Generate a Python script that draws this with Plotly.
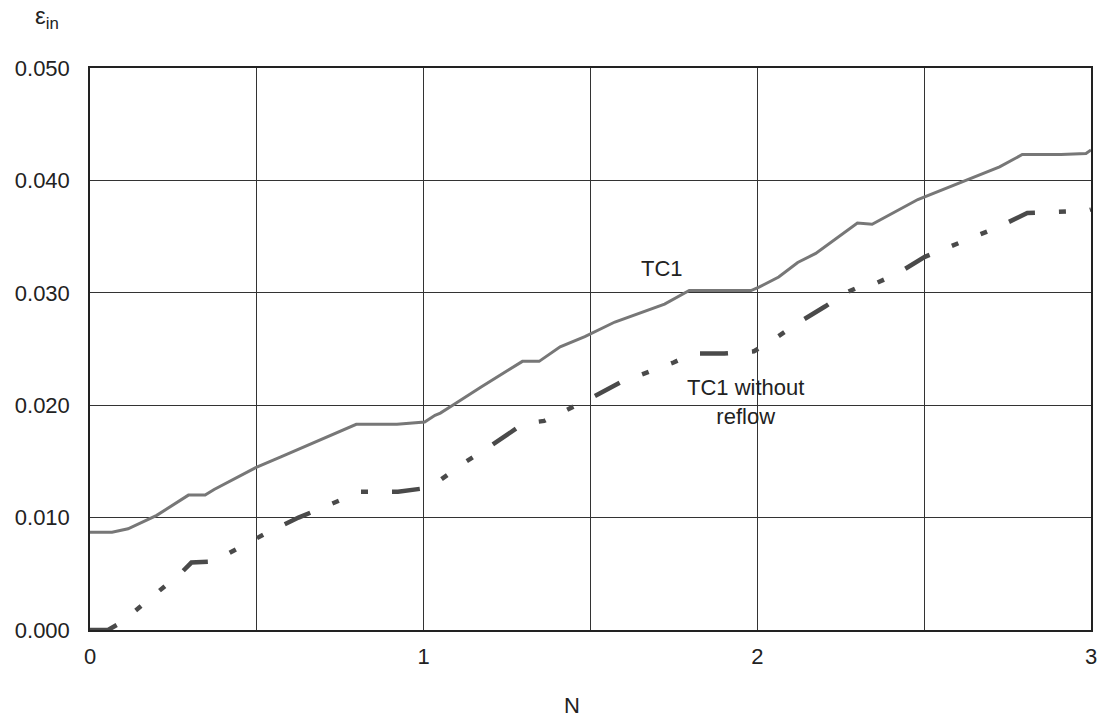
import plotly.graph_objects as go

# TC1 (solid grey)
tc1_x = [0, 0.066, 0.114, 0.2, 0.295, 0.345, 0.372, 0.43, 0.5, 0.572, 0.715, 0.798, 0.92, 0.977,
         1.003, 1.034, 1.05, 1.087, 1.171, 1.296, 1.346, 1.409, 1.483, 1.573, 1.722, 1.796, 1.981,
         2.005, 2.064, 2.121, 2.175, 2.300, 2.344, 2.481, 2.726, 2.794, 2.91, 2.985, 3.0]
tc1_y = [0.0087, 0.0087, 0.0090, 0.0102, 0.0120, 0.0120, 0.0125, 0.0134, 0.0145, 0.0154, 0.0172,
         0.0183, 0.0183, 0.0184, 0.0185, 0.0191, 0.0193, 0.0200, 0.0216, 0.0239, 0.0239, 0.0252,
         0.0261, 0.0274, 0.0290, 0.0302, 0.0302, 0.0305, 0.0314, 0.0327, 0.0335, 0.0362, 0.0361,
         0.0383, 0.0412, 0.0423, 0.0423, 0.0424, 0.0427]

# TC1 without reflow (dashed dark grey)
nr_x = [0, 0.054, 0.095, 0.277, 0.304, 0.348, 0.37, 0.521, 0.625, 0.754, 0.810, 0.923, 0.992, 1.0,
        1.048, 1.123, 1.197, 1.281, 1.335, 1.361, 1.499, 1.588, 1.749, 1.808, 1.901, 1.99, 2.046,
        2.121, 2.204, 2.258, 2.332, 2.359, 2.419, 2.502, 2.726, 2.809, 2.988, 3.0]
nr_y = [0, 0, 0.0007, 0.0052, 0.0060, 0.0060, 0.0061, 0.0085, 0.0100, 0.0116, 0.0123, 0.0123,
        0.0125, 0.0126, 0.0133, 0.0149, 0.0163, 0.0180, 0.0185, 0.0186, 0.0206, 0.0220, 0.0238,
        0.0246, 0.0246, 0.0248, 0.0258, 0.0273, 0.0288, 0.0299, 0.0309, 0.0309, 0.0317, 0.0332,
        0.0359, 0.0371, 0.0373, 0.0374]

y_tickvals = [0, 0.01, 0.02, 0.03, 0.04, 0.05]

FONT = "Liberation Sans, Arial, sans-serif"

fig = go.Figure()
fig.add_trace(go.Scatter(x=tc1_x, y=tc1_y, mode="lines",
                         line=dict(color="#777777", width=3), name="TC1"))
fig.add_trace(go.Scatter(x=nr_x, y=nr_y, mode="lines",
                         line=dict(color="#4a4a4a", width=4.5,
                                   dash="28px,24px,7px,24px,7px,24px"),
                         name="TC1 without reflow"))

fig.update_layout(
    width=1107, height=726,
    margin=dict(l=90, r=10, t=68, b=96),
    paper_bgcolor="white", plot_bgcolor="white",
    showlegend=False,
    font=dict(family=FONT, size=22, color="#222222"),
    xaxis=dict(range=[0, 3], dtick=1, tick0=0,
               showgrid=True, gridcolor="#333333", gridwidth=1,
               minor=dict(dtick=0.5, tick0=0, showgrid=True, gridcolor="#333333", gridwidth=1),
               showline=True, linecolor="#222222", linewidth=1.5, mirror=True,
               zeroline=False, ticks="", ticklabelstandoff=6),
    yaxis=dict(range=[0, 0.05], tickvals=y_tickvals, tickformat=".3f",
               showgrid=True, gridcolor="#333333", gridwidth=1,
               showline=True, linecolor="#222222", linewidth=1.5, mirror=True,
               zeroline=False, ticks="", ticklabelstandoff=14),
    annotations=[
        dict(text="TC1", x=1.713, y=0.0322, xref="x", yref="y", showarrow=False,
             font=dict(size=22)),
        dict(text="TC1 without<br>reflow", x=1.966, y=0.0203, xref="x", yref="y",
             showarrow=False, align="center", font=dict(size=22)),
        dict(text="ε<sub>in</sub>", x=(47 - 90) / 1007, y=(630 - 18) / 562,
             xref="paper", yref="paper", xanchor="center", yanchor="middle",
             showarrow=False, font=dict(size=24)),
        dict(text="N", x=(575 - 90) / 1007, y=(630 - 705) / 562,
             xref="paper", yref="paper", xanchor="center", yanchor="middle",
             showarrow=False, font=dict(size=22)),
    ],
)

fig.write_html("out.html")
